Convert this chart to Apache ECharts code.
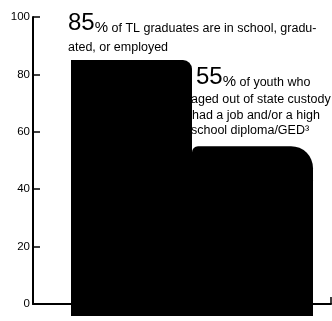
<!DOCTYPE html>
<html><head><meta charset="utf-8">
<script src="https://cdn.jsdelivr.net/npm/echarts@6/dist/echarts.min.js"></script>
<style>html,body{margin:0;padding:0;background:#fff}#c{width:332px;height:321px}</style>
</head><body><div id="c"></div>
<script>
const categories = ["TL graduates", "Youth who aged out of state custody"];
const values = [85, 55];
const yTicks = [0, 20, 40, 60, 80, 100];

const font = "'Liberation Sans', Arial, sans-serif";
const chart = echarts.init(document.getElementById('c'), null, {renderer: 'canvas'});
const rich = {
  big: {fontSize: 24, fontFamily: font, verticalAlign: 'bottom', lineHeight: 24},
  pct: {fontSize: 15, fontFamily: font, verticalAlign: 'bottom', lineHeight: 20},
  sm: {fontSize: 12.5, fontFamily: font, verticalAlign: 'bottom', lineHeight: 17}
};
chart.setOption({
  animation: false,
  backgroundColor: '#fff',
  grid: [
    {left: 71, right: 19, top: 17, bottom: 17},
    {left: 33, right: 1, top: 17, bottom: 17}
  ],
  xAxis: [
    {gridIndex: 0, type: 'category', data: categories, show: false, boundaryGap: true},
    {gridIndex: 1, type: 'value', min: 0, max: 1, interval: 1,
     axisLine: {show: true, lineStyle: {color: '#000', width: 2}},
     axisTick: {show: true, inside: true, length: 7, lineStyle: {color: '#000', width: 1.5}},
     axisLabel: {show: false}, splitLine: {show: false}}
  ],
  yAxis: [
    {gridIndex: 0, type: 'value', min: 0, max: 100, show: false},
    {gridIndex: 1, type: 'value', min: yTicks[0], max: yTicks[yTicks.length-1], interval: 20,
     axisLine: {show: true, lineStyle: {color: '#000', width: 2}},
     axisTick: {show: true, inside: true, length: 7, lineStyle: {color: '#000', width: 1.5}},
     axisLabel: {color: '#000', fontSize: 11.5, fontFamily: font, margin: 3},
     splitLine: {show: false}}
  ],
  series: [{
    type: 'bar', xAxisIndex: 0, yAxisIndex: 0,
    barWidth: '100%', barCategoryGap: 0,
    data: values.map((v, i) => ({
      value: v,
      itemStyle: {borderRadius: i === 0 ? [0, 9, 0, 0] : [6, 22, 0, 0]}
    })),
    itemStyle: {color: '#000', shadowColor: '#000', shadowOffsetY: 12, shadowBlur: 0}
  }],
  graphic: [
    {type: 'text', left: 68, top: 11, style: {
      text: '{big|85}{pct|%}{sm| of TL graduates are in school, gradu-}',
      fill: '#000', fontFamily: font, rich: rich}},
    {type: 'text', left: 68, top: 41, style: {text: 'ated, or employed', fill: '#000', fontSize: 12.5, fontFamily: font}},
    {type: 'text', left: 196, top: 65, style: {
      text: '{big|55}{pct|%}{sm| of youth who}',
      fill: '#000', fontFamily: font, rich: rich}},
    {type: 'text', left: 191, top: 93, style: {text: 'aged out of state custody', fill: '#000', fontSize: 12.5, fontFamily: font}},
    {type: 'text', left: 192, top: 109, style: {text: 'had a job and/or a high', fill: '#000', fontSize: 12.5, fontFamily: font}},
    {type: 'text', left: 191, top: 124, style: {text: 'school diploma/GED³', fill: '#000', fontSize: 12.5, fontFamily: font}}
  ]
});
</script></body></html>
